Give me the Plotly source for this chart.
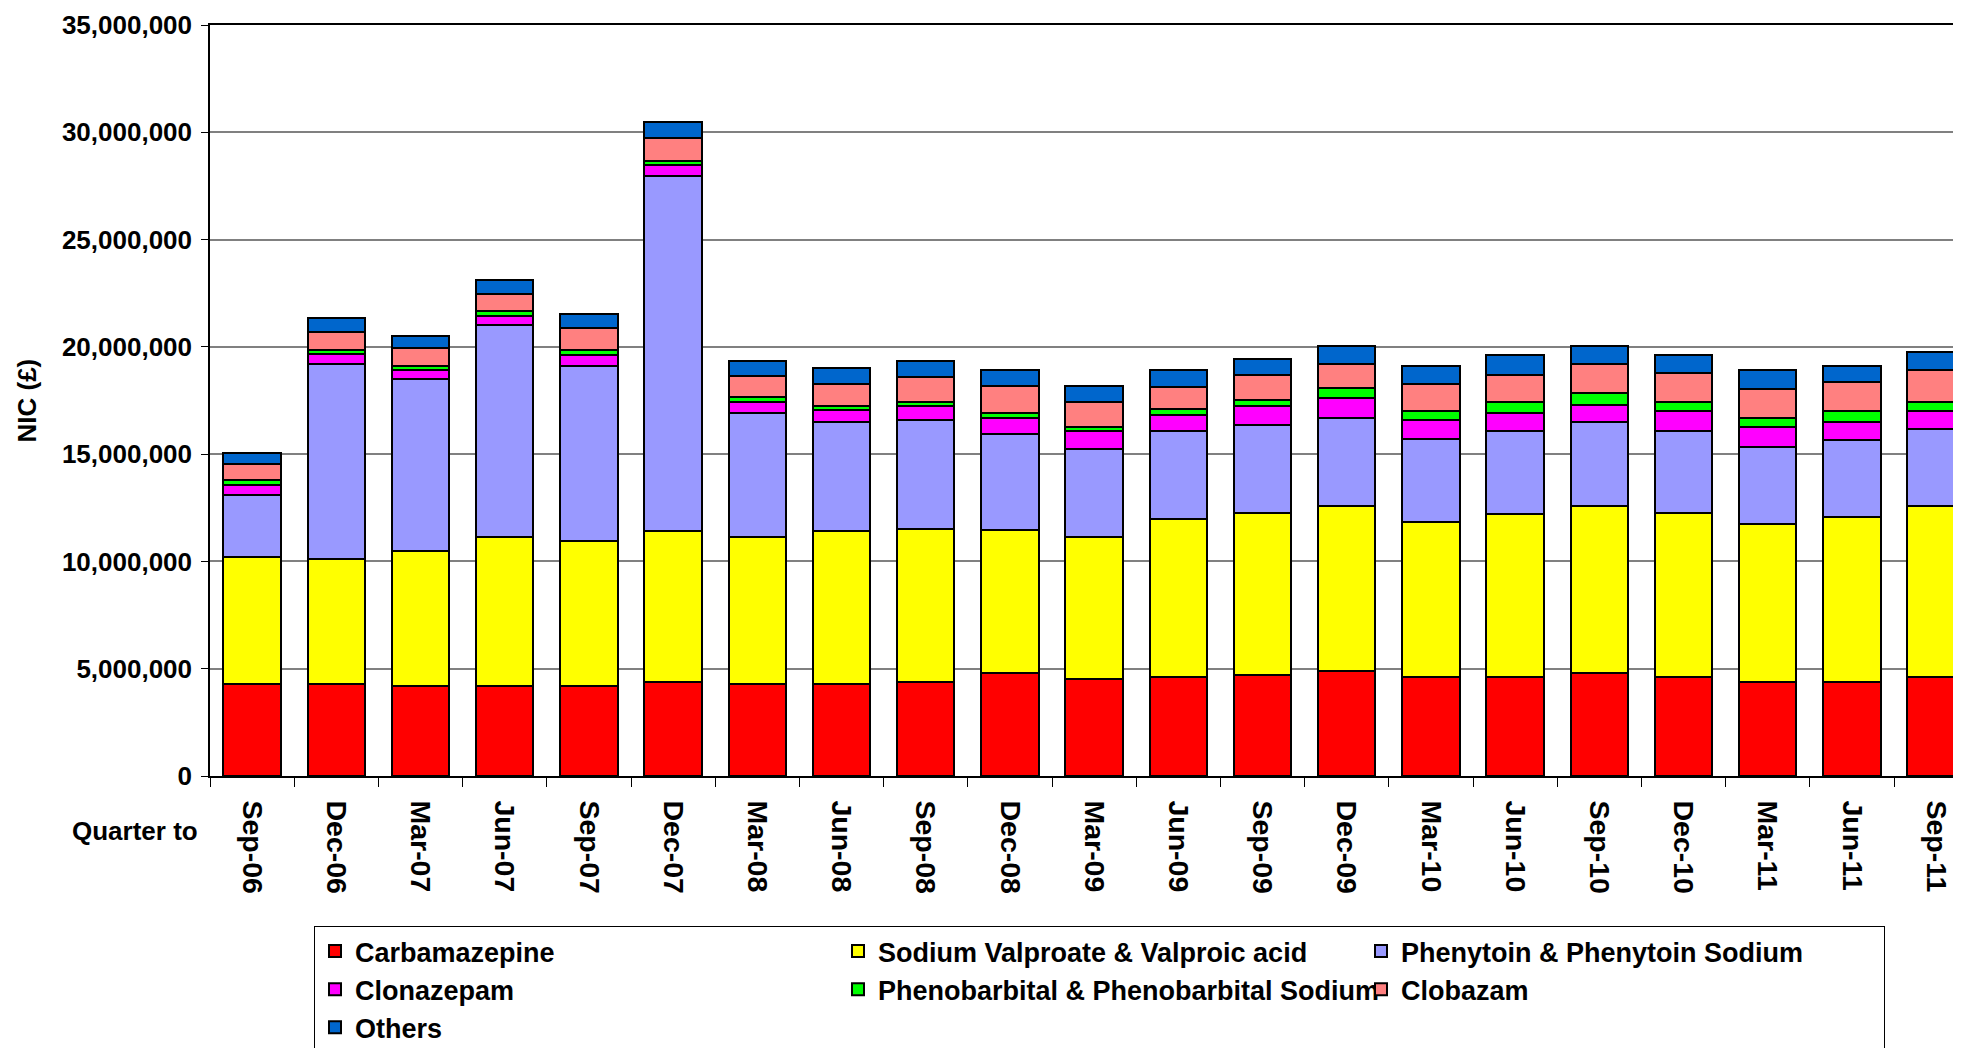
import plotly.graph_objects as go

quarters = ["Sep-06", "Dec-06", "Mar-07", "Jun-07", "Sep-07", "Dec-07", "Mar-08", "Jun-08",
            "Sep-08", "Dec-08", "Mar-09", "Jun-09", "Sep-09", "Dec-09", "Mar-10", "Jun-10",
            "Sep-10", "Dec-10", "Mar-11", "Jun-11", "Sep-11"]

carbamazepine = [4.30, 4.30, 4.21, 4.21, 4.21, 4.39, 4.29, 4.29, 4.39, 4.81, 4.51, 4.60, 4.69,
                 4.91, 4.60, 4.60, 4.81, 4.60, 4.39, 4.39, 4.60]
valproate = [5.90, 5.80, 6.29, 6.94, 6.73, 7.04, 6.85, 7.14, 7.13, 6.64, 6.61, 7.36, 7.58,
             7.67, 7.24, 7.59, 7.77, 7.67, 7.35, 7.68, 7.98]
phenytoin = [2.91, 9.11, 7.98, 9.85, 8.17, 16.51, 5.76, 5.08, 5.07, 4.50, 4.10, 4.10, 4.10,
             4.09, 3.88, 3.89, 3.90, 3.81, 3.61, 3.57, 3.59]
clonazepam = [0.45, 0.44, 0.42, 0.45, 0.51, 0.52, 0.54, 0.54, 0.65, 0.75, 0.86, 0.75, 0.87,
              0.94, 0.87, 0.82, 0.81, 0.93, 0.91, 0.86, 0.84]
phenobarbital = [0.23, 0.20, 0.21, 0.20, 0.23, 0.21, 0.21, 0.19, 0.17, 0.21, 0.18, 0.31, 0.28,
                 0.46, 0.40, 0.51, 0.56, 0.40, 0.44, 0.51, 0.40]
clobazam = [0.73, 0.83, 0.83, 0.83, 1.04, 1.06, 1.00, 1.04, 1.20, 1.26, 1.17, 1.03, 1.18,
            1.14, 1.29, 1.29, 1.36, 1.38, 1.35, 1.36, 1.49]
others = [0.52, 0.65, 0.55, 0.63, 0.64, 0.73, 0.70, 0.72, 0.73, 0.73, 0.74, 0.75, 0.73,
          0.84, 0.83, 0.93, 0.84, 0.84, 0.85, 0.74, 0.84]

series = [
    ("Carbamazepine", carbamazepine, "#FF0000"),
    ("Sodium Valproate & Valproic acid", valproate, "#FFFF00"),
    ("Phenytoin & Phenytoin Sodium", phenytoin, "#9999FF"),
    ("Clonazepam", clonazepam, "#FF00FF"),
    ("Phenobarbital & Phenobarbital Sodium", phenobarbital, "#00FF00"),
    ("Clobazam", clobazam, "#FF8080"),
    ("Others", others, "#0066CC"),
]

FONT = "Liberation Sans, Arial, sans-serif"
FS = 26

fig = go.Figure()
for name, vals, color in series:
    fig.add_trace(go.Bar(
        x=quarters, y=[v * 1_000_000 for v in vals], name=name,
        marker=dict(color=color, line=dict(color="black", width=2)),
    ))

# page body has an 8px margin; figure coordinates = viewport coordinates - 8
OFF = 8
W, H = 1961, 1048
ML, MR, MT = 210 - OFF, 0, 25 - OFF
PLOT_BOTTOM = 776 - OFF
MB = H - PLOT_BOTTOM
pw = W - ML - MR
ph = H - MT - MB


def px_x(x):
    return (x - OFF - ML) / pw


def px_y(y):
    return (PLOT_BOTTOM - (y - OFF)) / ph


cat_w = 84.2
x_hi = -0.5 + pw / cat_w

fig.update_layout(
    width=W, height=H,
    margin=dict(l=ML, r=MR, t=MT, b=MB, autoexpand=False),
    paper_bgcolor="white", plot_bgcolor="white",
    barmode="stack", bargap=0.32,
    font=dict(family=FONT, size=FS, color="black", weight="bold"),
    showlegend=True,
    legend=dict(
        orientation="h", traceorder="normal",
        x=px_x(314), xanchor="left", y=px_y(926), yanchor="top",
        entrywidth=478, entrywidthmode="pixels",
        bordercolor="black", borderwidth=1, bgcolor="white",
        font=dict(family=FONT, size=27, color="black", weight="bold"),
        itemwidth=30,
    ),
    xaxis=dict(
        type="category", range=[-0.5, x_hi],
        showline=True, linecolor="black", linewidth=1.5, mirror=True,
        ticks="outside", tickson="boundaries", ticklen=9, tickcolor="black", tickwidth=1,
        tickangle=90, ticklabelstandoff=17,
        tickfont=dict(family=FONT, size=28.5, color="black", weight="bold"),
        showgrid=False,
    ),
    yaxis=dict(
        range=[0, 35_000_000], dtick=5_000_000, tickformat=",d",
        showline=True, linecolor="black", linewidth=1.5,
        ticks="outside", ticklen=7, tickcolor="black", tickwidth=1,
        showgrid=True, gridcolor="#808080", gridwidth=1.5, zeroline=False,
        tickfont=dict(family=FONT, size=FS, color="black", weight="bold"),
        ticklabelstandoff=4,
    ),
    annotations=[
        dict(text="NIC (£)", xref="paper", yref="paper", x=px_x(26), y=0.5,
             xanchor="center", yanchor="middle", textangle=-90, showarrow=False,
             font=dict(family=FONT, size=FS, color="black", weight="bold")),
        dict(text="Quarter to", xref="paper", yref="paper", x=px_x(200), y=px_y(831),
             xanchor="right", yanchor="middle", showarrow=False,
             font=dict(family=FONT, size=FS, color="black", weight="bold")),
    ],
)

fig.write_html("out.html")
